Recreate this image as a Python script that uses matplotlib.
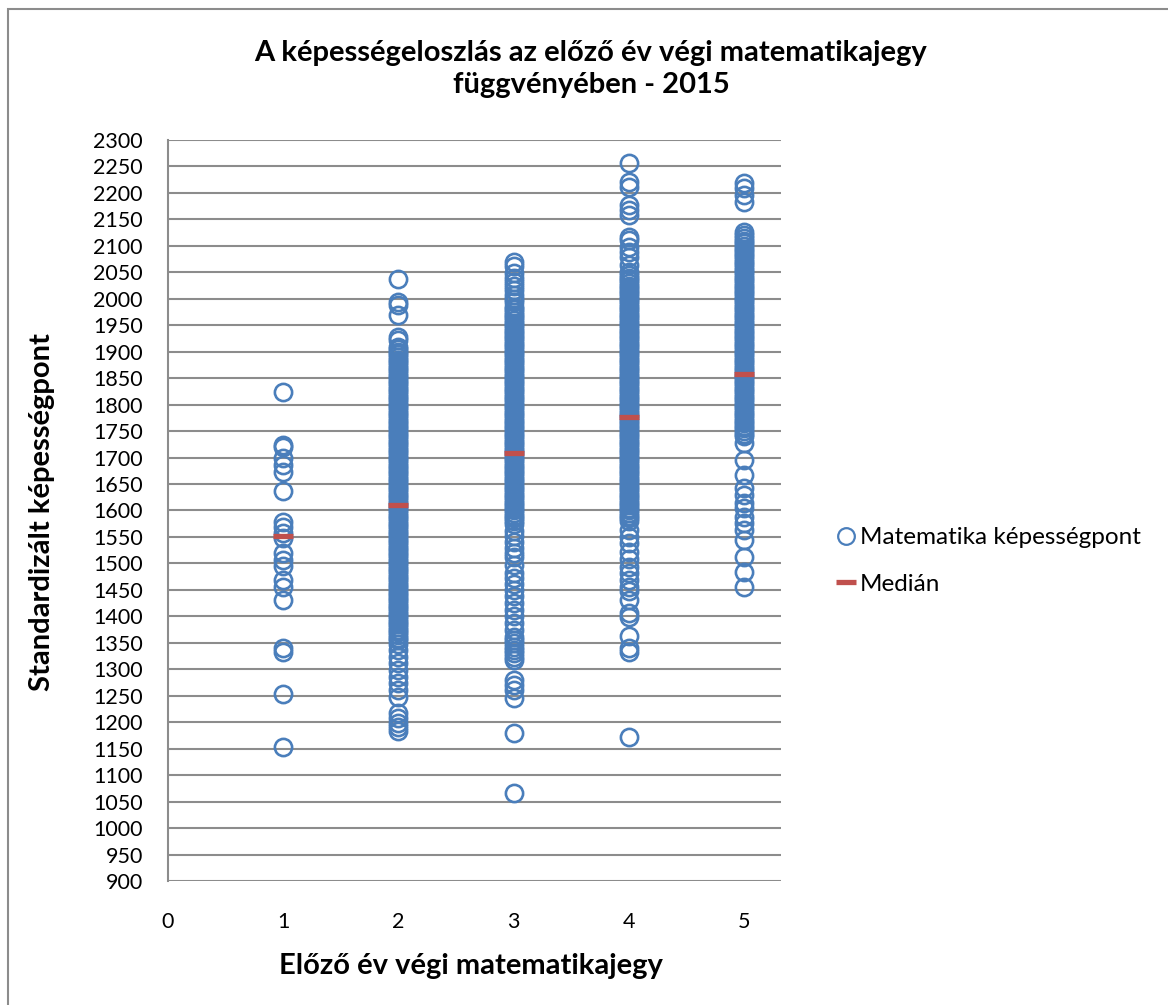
import matplotlib.pyplot as plt
from matplotlib.lines import Line2D
from matplotlib.patches import Rectangle

plt.rcParams['font.family'] = ['Lato', 'DejaVu Sans']

# jegyek (x) és a képességpontok oszloponként
grades = [1, 2, 3, 4, 5]

grade1 = [1823, 1724, 1720, 1700, 1686, 1673, 1637, 1578, 1569, 1557, 1548,
          1519, 1506, 1495, 1468, 1456, 1431, 1340, 1333, 1254, 1153]

grade2 = [2037, 1993, 1988, 1969, 1928, 1922, 1909,
          1905, 1900, 1895, 1890, 1885, 1880, 1875, 1870, 1865, 1860,
          1855, 1850, 1845, 1840, 1835, 1830, 1825, 1820, 1815, 1810,
          1805, 1800, 1795, 1790, 1785, 1780, 1775, 1770, 1765, 1760,
          1755, 1750, 1745, 1740, 1735, 1730, 1725, 1720, 1715, 1710,
          1705, 1700, 1695, 1690, 1685, 1680, 1675, 1670, 1665, 1660,
          1655, 1650, 1645, 1640, 1635, 1630, 1625, 1620, 1615, 1610,
          1605, 1600, 1595, 1590, 1585, 1580, 1575, 1570, 1565, 1560,
          1555, 1550, 1545, 1540, 1535, 1530, 1525, 1520, 1515, 1510,
          1505, 1500, 1495, 1490, 1485, 1480, 1475, 1470, 1465, 1460,
          1455, 1450, 1445, 1440, 1435, 1430, 1425, 1420, 1415, 1410,
          1405, 1400, 1395, 1390, 1385, 1380, 1375, 1370, 1365, 1360, 1355,
          1348, 1336, 1323, 1312, 1298, 1285, 1274, 1261, 1248,
          1217, 1208, 1198, 1191, 1184]

grade3 = [2070, 2061, 2049, 2040, 2031, 2024, 2016, 2008, 2000, 1993,
          1985, 1980, 1975, 1970, 1965, 1960, 1955, 1950, 1945, 1940,
          1935, 1930, 1925, 1920, 1915, 1910, 1905, 1900, 1895, 1890,
          1885, 1880, 1875, 1870, 1865, 1860, 1855, 1850, 1845, 1840,
          1835, 1830, 1825, 1820, 1815, 1810, 1805, 1800, 1795, 1790,
          1785, 1780, 1775, 1770, 1765, 1760, 1755, 1750, 1745, 1740,
          1735, 1730, 1725, 1720, 1715, 1710, 1705, 1700, 1695, 1690,
          1685, 1680, 1675, 1670, 1665, 1660, 1655, 1650, 1645, 1640,
          1635, 1630, 1625, 1620, 1615, 1610, 1605, 1600, 1595, 1590,
          1585, 1580, 1575,
          1562, 1552, 1541, 1530, 1519, 1513, 1497, 1481, 1472, 1462,
          1450, 1439, 1426, 1412, 1400, 1387, 1374, 1361, 1355, 1349,
          1342, 1336, 1330, 1323, 1317, 1280, 1270, 1261, 1246, 1179, 1066]

grade4 = [2256, 2221, 2212, 2177, 2168, 2158, 2117, 2111, 2098, 2089,
          2079, 2064,
          2050, 2045, 2040, 2035, 2030, 2025, 2020, 2015, 2010, 2005,
          2000, 1995, 1990, 1985, 1980, 1975, 1970, 1965, 1960, 1955,
          1950, 1945, 1940, 1935, 1930, 1925, 1920, 1915, 1910, 1905,
          1900, 1895, 1890, 1885, 1880, 1875, 1870, 1865, 1860, 1855,
          1850, 1845, 1840, 1835, 1830, 1825, 1820, 1815, 1810, 1805,
          1800, 1795, 1790, 1785, 1780, 1775, 1770, 1765, 1760, 1755,
          1750, 1745, 1740, 1735, 1730, 1725, 1720, 1715, 1710, 1705,
          1700, 1695, 1690, 1685, 1680, 1675, 1670, 1665, 1660, 1655,
          1650, 1645, 1640, 1635, 1630, 1625, 1620, 1615, 1610, 1605,
          1600, 1595, 1590, 1585, 1580,
          1563, 1550, 1538, 1522, 1509, 1494, 1481, 1469, 1456, 1447,
          1431, 1406, 1398, 1362, 1341, 1333, 1172]

grade5 = [2218, 2209, 2196, 2183, 2127,
          2120, 2115, 2110, 2105, 2100, 2095, 2090, 2085, 2080, 2075,
          2070, 2065, 2060, 2055, 2050, 2045, 2040, 2035, 2030, 2025,
          2020, 2015, 2010, 2005, 2000, 1995, 1990, 1985, 1980, 1975,
          1970, 1965, 1960, 1955, 1950, 1945, 1940, 1935, 1930, 1925,
          1920, 1915, 1910, 1905, 1900, 1895, 1890, 1885, 1880, 1875,
          1870, 1865, 1860, 1855, 1850, 1845, 1840, 1835, 1830, 1825,
          1820, 1815, 1810, 1805, 1800, 1795, 1790, 1785, 1780, 1775,
          1770, 1765, 1760, 1755, 1750, 1745, 1740,
          1727, 1695, 1667, 1642, 1629, 1614, 1604, 1588, 1576, 1563,
          1544, 1513, 1484, 1456]

medians = [1552, 1610, 1708, 1777, 1857]

columns = [grade1, grade2, grade3, grade4, grade5]

blue = '#4A7EBB'
red = '#C0504D'
grid_col = '#8C8C8C'

fig = plt.figure(figsize=(11.68, 10.05), dpi=100)
ax = fig.add_axes([168 / 1168, 1 - 881 / 1005, (781 - 168) / 1168, (881 - 140) / 1005])

for g, vals in zip(grades, columns):
    ax.plot([g] * len(vals), vals, linestyle='none', marker='o', markersize=12.4,
            markerfacecolor='none', markeredgecolor=blue, markeredgewidth=1.9, zorder=3)

ax.plot(grades, medians, linestyle='none', marker='_', markersize=14.5,
        markeredgecolor=red, markeredgewidth=3.8, zorder=4)

ax.set_xlim(0, 5.32)
ax.set_ylim(900, 2300)
ax.set_yticks(range(900, 2301, 50))
ax.set_xticks(range(0, 6))
ax.yaxis.grid(True, color=grid_col, linewidth=1.5)
ax.set_axisbelow(True)
for side in ['top', 'right', 'bottom']:
    ax.spines[side].set_visible(False)
ax.spines['left'].set_color(grid_col)
ax.spines['left'].set_linewidth(1.5)
ax.tick_params(length=0, labelsize=15.5, pad=18)
ax.tick_params(axis='x', pad=22)

fig.text(471 / 1168, 1 - 966 / 1005, 'Előző év végi matematikajegy',
         ha='center', va='center', fontsize=21, fontweight='bold')
fig.text(42 / 1168, 1 - 512 / 1005, 'Standardizált képességpont', rotation=90,
         ha='center', va='center', fontsize=21, fontweight='bold')

fig.text(591 / 1168, 1 - 69 / 1005,
         'A képességeloszlás az előző év végi matematikajegy\nfüggvényében - 2015',
         ha='center', va='center', fontsize=21, fontweight='bold', linespacing=1.3)

handles = [
    Line2D([], [], linestyle='none', marker='o', markersize=12, markerfacecolor='none',
           markeredgecolor=blue, markeredgewidth=1.6),
    Line2D([], [], linestyle='none', marker='_', markersize=14, markeredgecolor=red,
           markeredgewidth=3.8),
]
fig.legend(handles, ['Matematika képességpont', 'Medián'], loc='center left',
           bbox_to_anchor=(825 / 1168, 1 - 561 / 1005), frameon=False, fontsize=17.5,
           handlelength=0.7, handletextpad=0.25, labelspacing=1.05, borderpad=0)

# a diagram kerete
fig.patches.append(Rectangle((8 / 1168, -0.01), 1.05, 1 - 9 / 1005 + 0.01,
                             transform=fig.transFigure, fill=False,
                             edgecolor='#8C8C8C', linewidth=1.5))

fig.savefig('out.png', dpi=100)
